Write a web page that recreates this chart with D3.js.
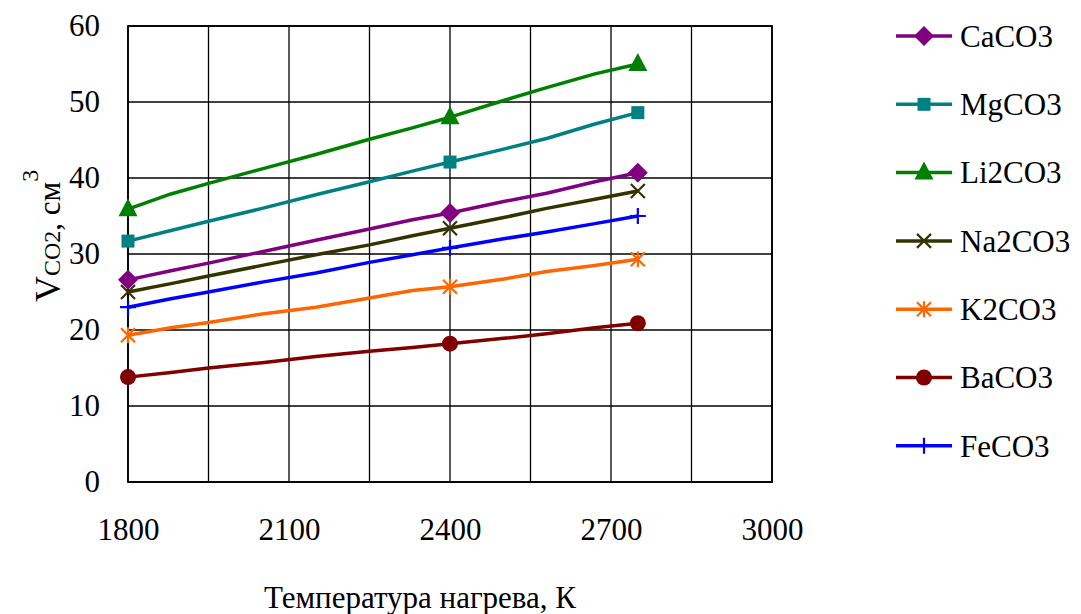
<!DOCTYPE html>
<html>
<head>
<meta charset="utf-8">
<script src="https://cdn.jsdelivr.net/npm/d3@7"></script>
<style>
    body { margin: 0; background: #fff; }
</style>
</head>
<body>
<div id="chart"></div>
<script>
// temperatures where values were read (K)
const temps = [1800, 1880, 1950, 2050, 2150, 2250, 2330, 2400, 2500, 2580, 2670, 2750];
// temperatures that carry a marker
const markerTemps = [1800, 2400, 2750];

const seriesNames = ["CaCO3", "MgCO3", "Li2CO3", "Na2CO3", "K2CO3", "BaCO3", "FeCO3"];

const caco3  = [26.6, 27.8, 28.8, 30.3, 31.8, 33.3, 34.5, 35.4, 36.9, 38.0, 39.5, 40.7];
const mgco3  = [31.7, 33.1, 34.3, 36.0, 37.8, 39.5, 40.9, 42.1, 43.8, 45.2, 47.1, 48.6];
const li2co3 = [35.9, 37.9, 39.3, 41.2, 43.1, 45.1, 46.6, 48.0, 50.2, 51.9, 53.7, 55.0];
const na2co3 = [25.0, 26.1, 27.1, 28.5, 29.9, 31.2, 32.4, 33.4, 34.8, 36.0, 37.2, 38.3];
const k2co3  = [19.3, 20.3, 21.0, 22.1, 23.0, 24.2, 25.2, 25.7, 26.7, 27.7, 28.5, 29.3];
const baco3  = [13.8, 14.4, 15.0, 15.7, 16.5, 17.2, 17.7, 18.2, 18.9, 19.5, 20.3, 20.9];
const feco3  = [23.0, 24.1, 25.0, 26.3, 27.5, 28.9, 29.9, 30.8, 32.0, 32.9, 34.0, 35.0];

const seriesValues = [caco3, mgco3, li2co3, na2co3, k2co3, baco3, feco3];
const colors = ["#800080", "#008080", "#008000", "#333300", "#ff6600", "#800000", "#0000ff"];
const markers = ["diamond", "square", "triangle", "x", "asterisk", "circle", "plus"];

const xTicks = [1800, 2100, 2400, 2700, 3000];
const xGrid = d3.range(1800, 3001, 150);
const yTicks = [0, 10, 20, 30, 40, 50, 60];

const FONT = "'Liberation Serif', 'DejaVu Serif', serif";

const width = 1081, height = 614;
const margin = {top: 26, left: 128, right: 309, bottom: 132};

const svg = d3.select("#chart").append("svg")
    .attr("width", width)
    .attr("height", height)
    .attr("font-family", FONT);

const x = d3.scaleLinear().domain([1800, 3000]).range([margin.left, width - margin.right]);
const y = d3.scaleLinear().domain([0, 60]).range([height - margin.bottom, margin.top]);

// grid
svg.append("g")
    .selectAll("line")
    .data(xGrid)
    .enter().append("line")
    .attr("x1", d => x(d)).attr("x2", d => x(d))
    .attr("y1", y(0)).attr("y2", y(60))
    .attr("stroke", "#000").attr("stroke-width", 1.3);

svg.append("g")
    .selectAll("line")
    .data(yTicks)
    .enter().append("line")
    .attr("x1", x(1800)).attr("x2", x(3000))
    .attr("y1", d => y(d)).attr("y2", d => y(d))
    .attr("stroke", "#000").attr("stroke-width", 1.3);

svg.append("rect")
    .attr("x", x(1800)).attr("y", y(60))
    .attr("width", x(3000) - x(1800)).attr("height", y(0) - y(60))
    .attr("fill", "none").attr("stroke", "#000").attr("stroke-width", 1.8);

// axes (labels only)
const yAxis = svg.append("g")
    .attr("transform", `translate(${x(1800)},0)`)
    .call(d3.axisLeft(y).tickValues(yTicks).tickSize(0).tickPadding(28));
yAxis.attr("font-family", FONT);
yAxis.select(".domain").remove();
yAxis.selectAll("text").style("font-family", FONT).style("font-size", "31px").attr("fill", "#000").attr("dy", "0.32em");

const xAxis = svg.append("g")
    .attr("transform", `translate(0,${y(0)})`)
    .call(d3.axisBottom(x).tickValues(xTicks).tickSize(0).tickPadding(36).tickFormat(d3.format("d")));
xAxis.attr("font-family", FONT);
xAxis.select(".domain").remove();
xAxis.selectAll("text").style("font-family", FONT).style("font-size", "31px").attr("fill", "#000");

// axis titles
svg.append("text")
    .attr("x", 420).attr("y", 608)
    .attr("text-anchor", "middle")
    .style("font-family", FONT)
    .style("font-size", "31px")
    .text("Температура нагрева, К");

const yTitle = svg.append("text")
    .attr("transform", "translate(60,302) rotate(-90)")
    .attr("text-anchor", "start")
    .style("font-family", FONT);
yTitle.append("tspan").style("font-size", "36px").text("V");
yTitle.append("tspan").style("font-size", "24px").text("CO2");
yTitle.append("tspan").style("font-size", "31px").text(", см");
yTitle.append("tspan").style("font-size", "24px").attr("dy", "-0.9em").text("3");

// marker drawing
function drawMarker(g, type, color, cx, cy) {
    if (type === "diamond") {
        g.append("path").attr("d", `M${cx},${cy - 10}L${cx + 10},${cy}L${cx},${cy + 10}L${cx - 10},${cy}Z`)
            .attr("fill", color);
    } else if (type === "square") {
        g.append("rect").attr("x", cx - 6.5).attr("y", cy - 6.5).attr("width", 13).attr("height", 13)
            .attr("fill", color);
    } else if (type === "triangle") {
        g.append("path").attr("d", `M${cx},${cy - 11}L${cx + 9.5},${cy + 7}L${cx - 9.5},${cy + 7}Z`)
            .attr("fill", color);
    } else if (type === "circle") {
        g.append("circle").attr("cx", cx).attr("cy", cy).attr("r", 8).attr("fill", color);
    } else if (type === "x") {
        g.append("path").attr("d", `M${cx - 7},${cy - 7}L${cx + 7},${cy + 7}M${cx - 7},${cy + 7}L${cx + 7},${cy - 7}`)
            .attr("stroke", color).attr("stroke-width", 2.2);
    } else if (type === "asterisk") {
        g.append("path").attr("d", `M${cx - 7},${cy - 7}L${cx + 7},${cy + 7}M${cx - 7},${cy + 7}L${cx + 7},${cy - 7}M${cx},${cy - 8}L${cx},${cy + 8}`)
            .attr("stroke", color).attr("stroke-width", 2.2);
    } else if (type === "plus") {
        g.append("path").attr("d", `M${cx - 8},${cy}L${cx + 8},${cy}M${cx},${cy - 8}L${cx},${cy + 8}`)
            .attr("stroke", color).attr("stroke-width", 2.2);
    }
}

const line = d3.line()
    .x(d => x(d[0]))
    .y(d => y(d[1]));

seriesNames.forEach((name, i) => {
    const pts = temps.map((t, j) => [t, seriesValues[i][j]]);
    const g = svg.append("g").attr("class", "series");
    g.append("path")
        .datum(pts)
        .attr("d", line)
        .attr("fill", "none")
        .attr("stroke", colors[i])
        .attr("stroke-width", 3.5)
        .attr("stroke-linejoin", "round");
    pts.filter(p => markerTemps.includes(p[0]))
        .forEach(p => drawMarker(g, markers[i], colors[i], x(p[0]), y(p[1])));
});

// legend
const legend = svg.append("g");
seriesNames.forEach((name, i) => {
    const ly = 36 + i * 68.3;
    const g = legend.append("g");
    g.append("line")
        .attr("x1", 896).attr("x2", 952)
        .attr("y1", ly).attr("y2", ly)
        .attr("stroke", colors[i]).attr("stroke-width", 3.5);
    drawMarker(g, markers[i], colors[i], 924, ly);
    g.append("text")
        .attr("x", 960).attr("y", ly)
        .attr("dy", "0.35em")
        .style("font-family", FONT)
        .style("font-size", "31px")
        .text(name);
});
</script>
</body>
</html>
